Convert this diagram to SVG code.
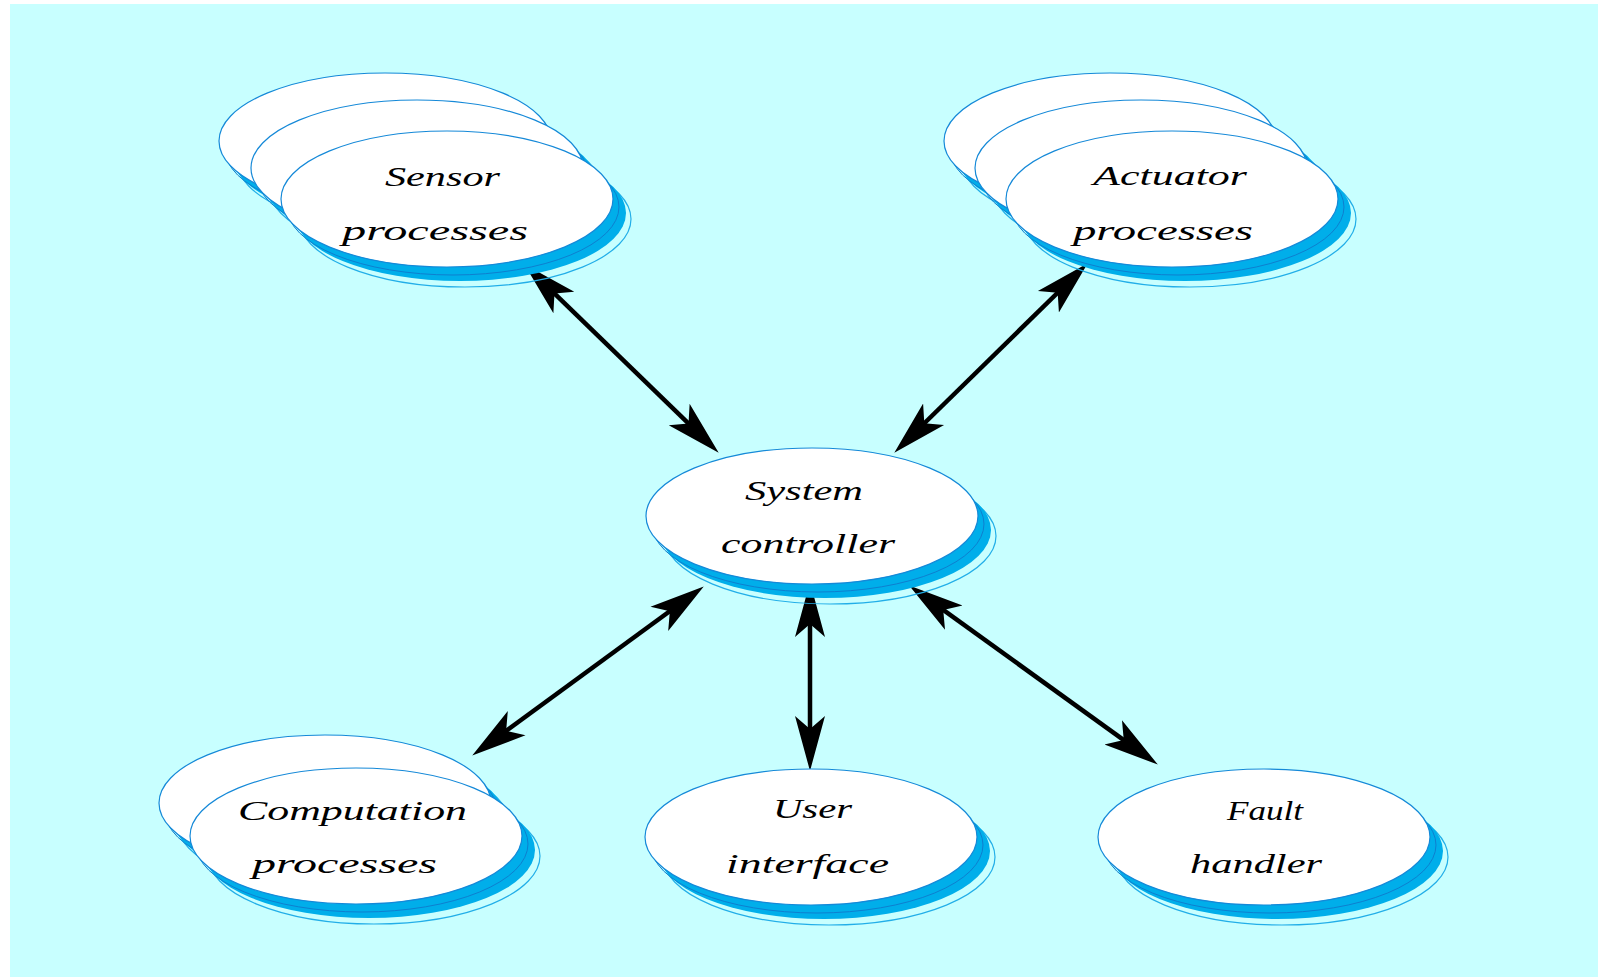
<svg xmlns="http://www.w3.org/2000/svg" xmlns:xlink="http://www.w3.org/1999/xlink" width="1598" height="977" viewBox="0 0 1598 977">
<style>
.lbl{font-family:"Liberation Serif","DejaVu Serif",serif;font-style:italic;font-size:28px;fill:#000;text-anchor:start}
.conn{stroke:#000;stroke-width:4.5;fill:none;marker-start:url(#ah);marker-end:url(#ah)}
</style>
<defs>
<marker id="ah" viewBox="0 0 56 32" refX="34" refY="16" markerWidth="56" markerHeight="32" markerUnits="userSpaceOnUse" orient="auto-start-reverse">
<path d="M55,16 L0,1 L13,16 L0,31 Z" fill="#000"/>
</marker>
<g id="ell">
<ellipse cx="18" cy="20" rx="166" ry="68" fill="none" stroke="#22aee8" stroke-width="1.2"/>
<ellipse cx="13" cy="14" rx="166" ry="68" fill="#00aeea"/>
<ellipse cx="6" cy="8" rx="166" ry="68" fill="none" stroke="#0e7fcf" stroke-width="1"/>
<ellipse cx="0" cy="0" rx="166" ry="68" fill="#fff" stroke="#1589d8" stroke-width="1.2"/>
</g>
</defs>
<rect x="0" y="0" width="1598" height="977" fill="#fff"/>
<rect x="10" y="4" width="1588" height="973" fill="#c8ffff"/>

<g id="connectors">
<line class="conn" x1="539.4" y1="278.9" x2="703.6" y2="438.1"/>
<line class="conn" x1="1072.7" y1="278" x2="909.3" y2="438"/>
<line class="conn" x1="686.8" y1="598.8" x2="489.2" y2="743.2"/>
<line class="conn" x1="810" y1="603" x2="810" y2="750"/>
<line class="conn" x1="926.2" y1="597.7" x2="1140.8" y2="752.3"/>
</g>

<g id="sensor">
<use xlink:href="#ell" x="385" y="141"/>
<use xlink:href="#ell" x="417" y="168"/>
<use xlink:href="#ell" x="447" y="199"/>
<text class="lbl" x="385" y="186" textLength="115" lengthAdjust="spacingAndGlyphs">Sensor</text>
<text class="lbl" x="342" y="240" textLength="186" lengthAdjust="spacingAndGlyphs">processes</text>
</g>

<g id="actuator">
<use xlink:href="#ell" x="1110" y="141"/>
<use xlink:href="#ell" x="1141" y="168"/>
<use xlink:href="#ell" x="1172" y="199"/>
<text class="lbl" x="1093" y="185" textLength="154" lengthAdjust="spacingAndGlyphs">Actuator</text>
<text class="lbl" x="1073" y="240" textLength="180" lengthAdjust="spacingAndGlyphs">processes</text>
</g>

<g id="system">
<use xlink:href="#ell" x="812" y="516"/>
<text class="lbl" x="745" y="500" textLength="118" lengthAdjust="spacingAndGlyphs">System</text>
<text class="lbl" x="721" y="553" textLength="174" lengthAdjust="spacingAndGlyphs">controller</text>
</g>

<g id="computation">
<use xlink:href="#ell" x="325" y="803"/>
<use xlink:href="#ell" x="356" y="836"/>
<text class="lbl" x="238" y="820" textLength="229" lengthAdjust="spacingAndGlyphs">Computation</text>
<text class="lbl" x="252" y="873" textLength="185" lengthAdjust="spacingAndGlyphs">processes</text>
</g>

<g id="user">
<use xlink:href="#ell" x="811" y="837"/>
<text class="lbl" x="773" y="818" textLength="79" lengthAdjust="spacingAndGlyphs">User</text>
<text class="lbl" x="726" y="873" textLength="163" lengthAdjust="spacingAndGlyphs">interface</text>
</g>

<g id="fault">
<use xlink:href="#ell" x="1264" y="837"/>
<text class="lbl" x="1227" y="820" textLength="76" lengthAdjust="spacingAndGlyphs">Fault</text>
<text class="lbl" x="1190" y="873" textLength="132" lengthAdjust="spacingAndGlyphs">handler</text>
</g>
</svg>
